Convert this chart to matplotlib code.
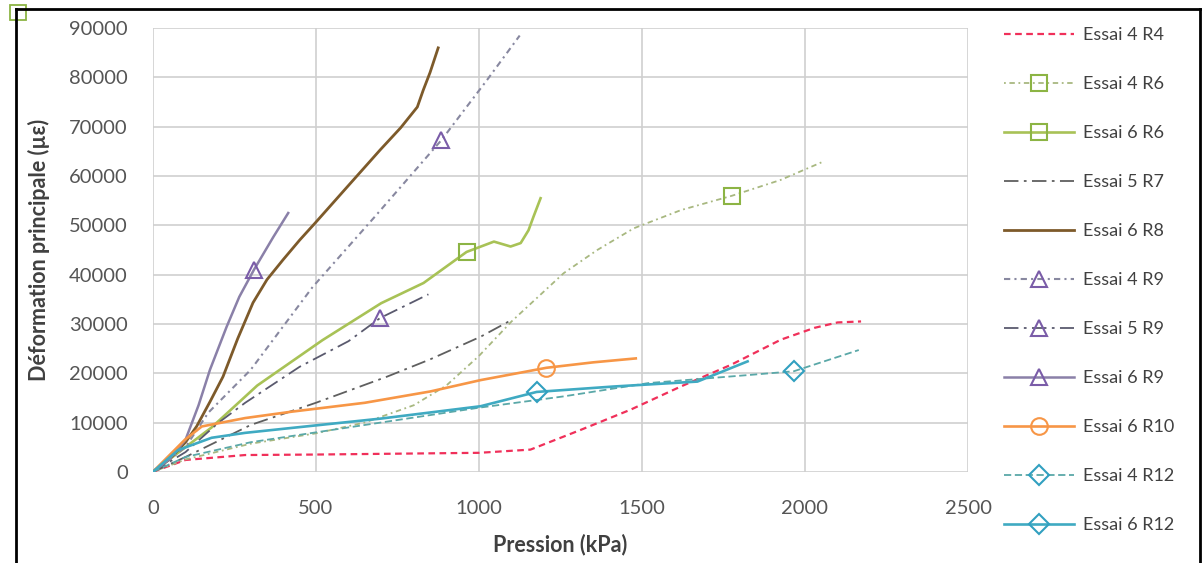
import matplotlib
matplotlib.use("Agg")
import matplotlib.pyplot as plt
from matplotlib.lines import Line2D
from matplotlib.patches import Rectangle

plt.rcParams['font.family'] = ['Lato', 'DejaVu Sans']

# Pression (kPa) / Deformation (micro-strain)
x_e4r4 = [0, 100, 283, 500, 1000, 1158, 1312, 1465, 1619, 1773, 1926, 2029, 2100, 2172]
y_e4r4 = [0, 2400, 3400, 3500, 3850, 4500, 8500, 12600, 17300, 21700, 26800, 29200, 30300, 30500]

x_e4r6 = [0, 100, 300, 500, 650, 800, 900, 1000, 1100, 1260, 1363, 1475, 1620, 1776, 1925, 2055]
y_e4r6 = [0, 2500, 5700, 7800, 10000, 13500, 17500, 23500, 30500, 40300, 45000, 49400, 53100, 56000, 59200, 62900]

x_e6r6 = [0, 100, 180, 320, 520, 700, 830, 962, 1046, 1097, 1128, 1152, 1167, 1189]
y_e6r6 = [0, 5000, 9000, 17500, 26700, 34200, 38300, 44600, 46700, 45700, 46400, 49000, 51700, 55500]

x_e5r7 = [0, 100, 300, 500, 718, 850, 1005, 1100]
y_e5r7 = [0, 3000, 9500, 14000, 19300, 22800, 27400, 30800]

x_e6r8 = [0, 50, 100, 134, 175, 215, 260, 307, 350, 399, 450, 498, 596, 697, 760, 811, 829, 850, 875]
y_e6r8 = [0, 2500, 6000, 9200, 14200, 19300, 27000, 34300, 39000, 43000, 47000, 50500, 57800, 65300, 69800, 74000, 77400, 81000, 86000]

x_e4r9 = [0, 100, 170, 300, 490, 680, 885, 1025, 1125]
y_e4r9 = [0, 5000, 12000, 20700, 37500, 51700, 67300, 79500, 88500]

x_e5r9 = [0, 100, 200, 283, 450, 600, 697, 845]
y_e5r9 = [0, 4000, 9900, 14000, 21300, 26500, 31200, 36000]

x_e6r9 = [0, 50, 100, 140, 175, 226, 265, 310, 369, 415]
y_e6r9 = [0, 2500, 6500, 13500, 20700, 29400, 35500, 41000, 47600, 52500]

x_e6r10 = [0, 98, 150, 283, 426, 650, 851, 1005, 1207, 1350, 1481]
y_e6r10 = [0, 6500, 9200, 10900, 12200, 14000, 16300, 18600, 21100, 22200, 23000]

x_e4r12 = [0, 100, 300, 500, 700, 1000, 1260, 1520, 1840, 1966, 2165]
y_e4r12 = [0, 3000, 6000, 8000, 10000, 13000, 15300, 18000, 19700, 20400, 24700]

x_e6r12 = [0, 77, 180, 283, 426, 700, 1005, 1177, 1413, 1670, 1824]
y_e6r12 = [0, 4400, 6900, 7900, 8900, 10800, 13300, 16200, 17300, 18300, 22400]

labels = ['Essai 4 R4', 'Essai 4 R6', 'Essai 6 R6', 'Essai 5 R7', 'Essai 6 R8', 'Essai 4 R9',
          'Essai 5 R9', 'Essai 6 R9', 'Essai 6 R10', 'Essai 4 R12', 'Essai 6 R12']
xs = [x_e4r4, x_e4r6, x_e6r6, x_e5r7, x_e6r8, x_e4r9, x_e5r9, x_e6r9, x_e6r10, x_e4r12, x_e6r12]
ys = [y_e4r4, y_e4r6, y_e6r6, y_e5r7, y_e6r8, y_e4r9, y_e5r9, y_e6r9, y_e6r10, y_e4r12, y_e6r12]
# indice du point portant le marqueur (None = pas de marqueur)
mark_idx = [None, 13, 7, None, None, 6, 6, 7, 8, 9, 7]

styles = [
    dict(color='#f0305a', ls=(0, (3, 2)), lw=1.6, marker=None, mec=None),
    dict(color='#a8b880', ls=(0, (1, 2, 3, 2)), lw=1.3, marker='s', mec='#8cb444'),
    dict(color='#a8c256', ls='-', lw=1.9, marker='s', mec='#8cb444'),
    dict(color='#5f5f5f', ls=(0, (8, 3, 1.5, 3)), lw=1.3, marker=None, mec=None),
    dict(color='#7d5a2a', ls='-', lw=2.0, marker=None, mec=None),
    dict(color='#8888a0', ls=(0, (3, 2, 1, 2)), lw=1.5, marker='^', mec='#7a5ca8'),
    dict(color='#5a5a6e', ls=(0, (8, 3, 1.5, 3)), lw=1.3, marker='^', mec='#7a5ca8'),
    dict(color='#8a80a8', ls='-', lw=1.8, marker='^', mec='#7a5ca8'),
    dict(color='#f79646', ls='-', lw=1.9, marker='o', mec='#f79646'),
    dict(color='#5aa8a8', ls=(0, (4, 2)), lw=1.3, marker='D', mec='#31a0c0'),
    dict(color='#3faac2', ls='-', lw=1.9, marker='D', mec='#31a0c0'),
]

fig = plt.figure(figsize=(12.04, 5.63), dpi=100)
ax = fig.add_axes([0.127, 0.162, 0.677, 0.788])

for x, y, lab, st, mi in zip(xs, ys, labels, styles, mark_idx):
    kw = {}
    if st['marker'] is not None:
        ms = 10 if st['marker'] == 'D' else 12
        kw = dict(marker=st['marker'], markevery=[mi], markersize=ms,
                  markerfacecolor='none', markeredgecolor=st['mec'], markeredgewidth=1.5)
    ax.plot(x, y, color=st['color'], linestyle=st['ls'], linewidth=st['lw'], label=lab, **kw)

ax.set_xlim(0, 2500)
ax.set_ylim(0, 90000)
ax.set_xticks(range(0, 2501, 500))
ax.set_yticks(range(0, 90001, 10000))
ax.grid(True, color='#cfcfcf', linewidth=1.2)
ax.set_axisbelow(True)
for s in ['top', 'right', 'left', 'bottom']:
    ax.spines[s].set_visible(False)
ax.tick_params(length=0, labelsize=14.5, labelcolor='#555555')
ax.tick_params(axis='x', pad=20)
ax.tick_params(axis='y', pad=18)

ax.set_xlabel('Pression (kPa)', fontsize=15.5, fontweight='bold', color='#404040', labelpad=12)
ax.set_ylabel('Déformation principale (µε)', fontsize=15.5, fontweight='bold', color='#404040', labelpad=14)

fig.legend(loc='upper left', bbox_to_anchor=(0.82, 0.981), frameon=False,
           fontsize=13, labelcolor='#404040', handlelength=3.9, labelspacing=1.83,
           handletextpad=0.5)

# cadre noir extérieur
fig.add_artist(Line2D([0.0135, 0.0135], [0.0, 0.984], color='black', lw=2))
fig.add_artist(Line2D([0.0135, 0.9967], [0.984, 0.984], color='black', lw=2))
fig.add_artist(Line2D([0.9967, 0.9967], [0.0, 0.984], color='black', lw=2))
fig.add_artist(Rectangle((0.0085, 0.965), 0.013, 0.026, transform=fig.transFigure,
                         fill=False, edgecolor='#8cb444', lw=1.3))

fig.savefig('out.png', dpi=100)
